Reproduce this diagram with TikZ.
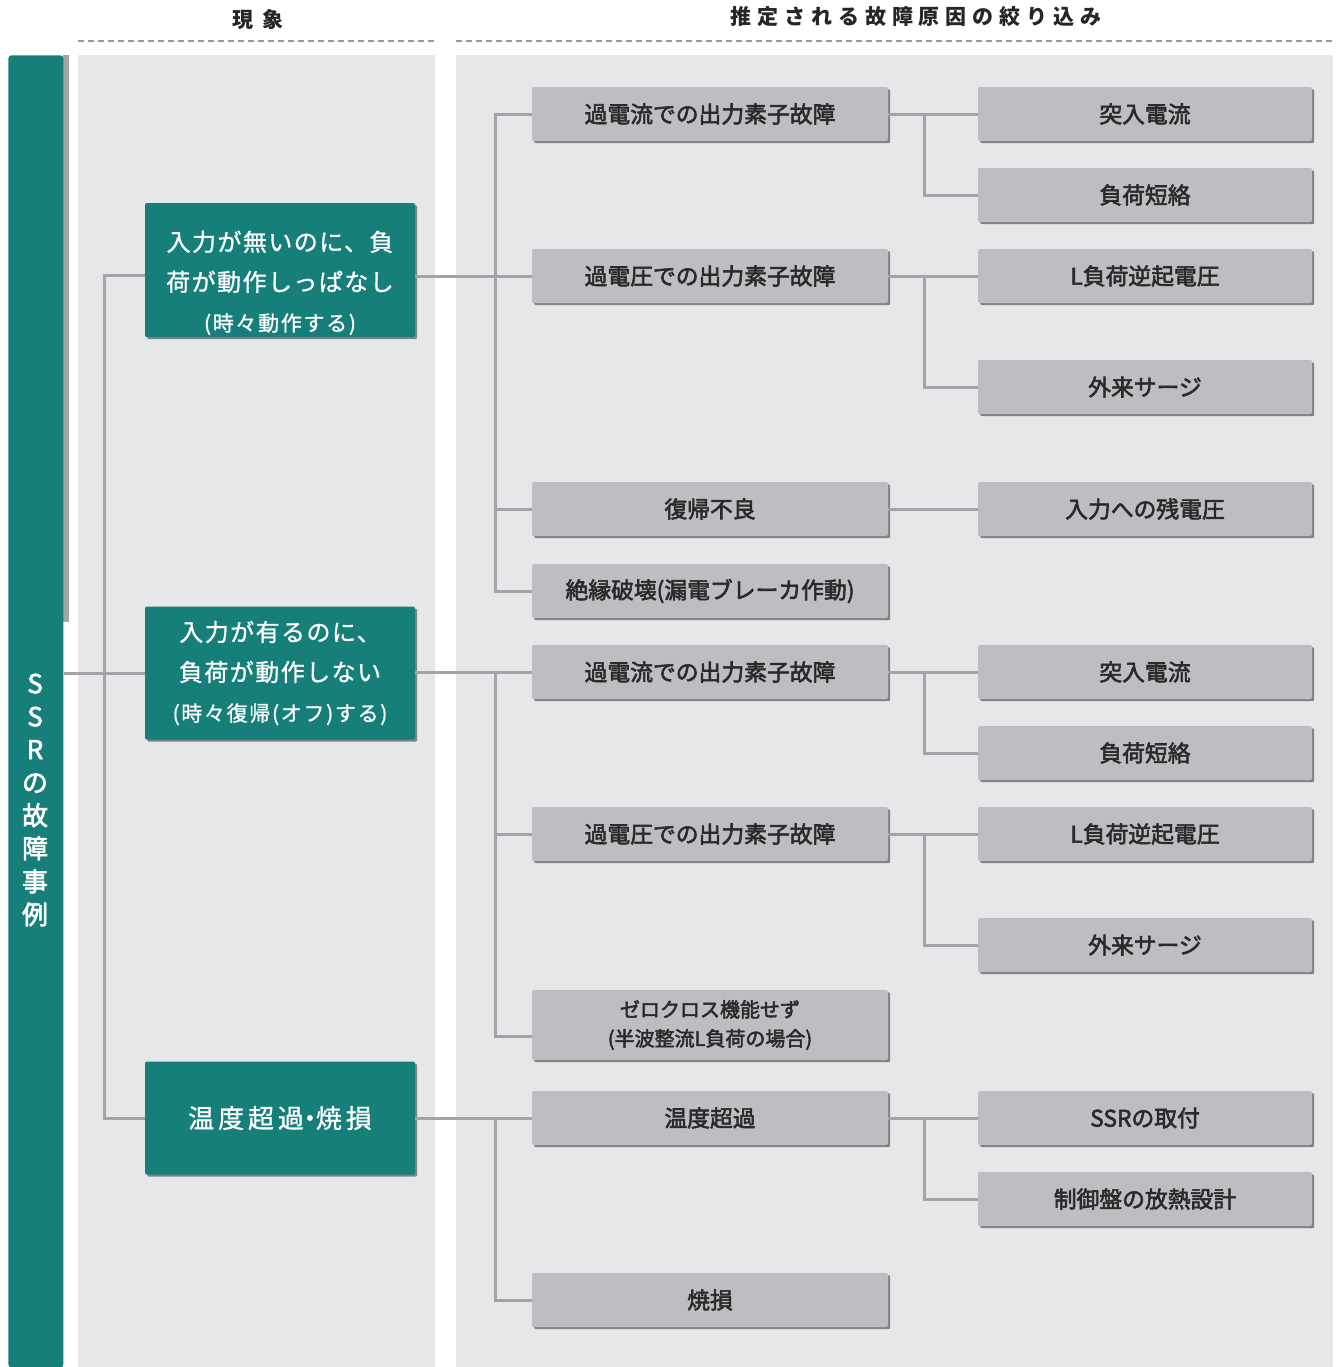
\documentclass[tikz,border=0pt]{standalone}
\usepackage{fontspec}
\setmainfont{Noto Sans CJK JP}
\newfontfamily\medjp{Noto Sans CJK JP}[FakeBold=2.5]
\newfontfamily\lightjp{Noto Sans CJK JP}[FakeBold=1]
\usetikzlibrary{positioning,shadows}
\definecolor{ssrteal}{HTML}{167F7A}
\definecolor{panelgray}{HTML}{E6E7E9}
\definecolor{causegray}{HTML}{BDBEC1}
\definecolor{linkgray}{HTML}{A3A4A7}
\definecolor{inkgray}{HTML}{2A2A2A}
\tikzset{
  cause/.style={fill=causegray, rounded corners=1pt, minimum width=178pt,
    minimum height=27pt, inner sep=0pt, align=center, text=inkgray,
    font=\medjp\fontsize{11.4}{14}\selectfont,
    drop shadow={shadow xshift=1.1pt, shadow yshift=-1.1pt, fill=black!75, opacity=0.6}},
  reason/.style={cause, minimum width=167pt},
  phen/.style={fill=ssrteal, rounded corners=1pt, minimum width=135pt,
    inner sep=0pt, align=center, text=white,
    font=\lightjp\fontsize{12}{20}\selectfont\addfontfeatures{LetterSpace=6},
    drop shadow={shadow xshift=1.1pt, shadow yshift=-1.1pt, fill=black!75, opacity=0.6}},
  link/.style={draw=linkgray, line width=1.5pt},
  rule/.style={draw=black!40, line width=1pt, dash pattern=on 3pt off 2pt},
  hdr/.style={font=\bfseries\fontsize{10.5}{12}\selectfont, text=black!85},
}
\newcommand{\paren}[1]{{\fontsize{10.5}{19}\selectfont\addfontfeatures{LetterSpace=8}#1}}

\begin{document}
\begin{tikzpicture}[x=0.5pt,y=-0.5pt]
\useasboundingbox (0,0) rectangle (1336,1367);
\fill[white] (0,0) rectangle (1336,1367);
% headings
\node[hdr, font=\bfseries\fontsize{10.5}{12}\selectfont\addfontfeatures{LetterSpace=40}] (hphen) at (258,20) {現象};
\node[hdr, font=\bfseries\fontsize{10.5}{12}\selectfont\addfontfeatures{LetterSpace=28}] (hcause) at (916,17) {推定される故障原因の絞り込み};
\draw[rule] (78,41) -- (435,41);
\draw[rule] (456,41) -- (1333,41);
% panels
\fill[panelgray] (78,55) rectangle (435,1367);
\fill[panelgray] (456,55) rectangle (1333,1367);
% SSR bar
\fill[linkgray] (63,55) rectangle (69,622);
\node[fill=ssrteal, rounded corners=1.5pt, minimum width=27.5pt, minimum height=656pt, inner sep=0pt,
  anchor=north west] (ssr) at (8,55) {};
\node[text=white, align=center, font=\medjp\fontsize{13}{16.5}\selectfont] (ssrlabel) at (35,800)
  {S\\S\\R\\の\\故\\障\\事\\例};
% phenomena
\node[phen, minimum height=67pt] (phA) at (280,270) {\rule{0pt}{23pt}入力が無いのに、負\\荷が動作しっぱなし\\\paren{(時々動作する)}};
\node[phen, minimum height=66.5pt] (phB) at (280,673) {入力が有るのに、\\負荷が動作しない\\\paren{(時々復帰(オフ)する)}};
\node[phen, minimum height=56.5pt, font=\lightjp\fontsize{13}{20}\selectfont\addfontfeatures{LetterSpace=15}] (phC) at (280,1118) {温度超過\kern-3.5pt・\kern-3.5pt焼損};
% estimated causes
\node[cause] (m1) at (710,114) {過電流での出力素子故障};
\node[cause] (m2) at (710,276) {過電圧での出力素子故障};
\node[cause] (m3) at (710,509) {復帰不良};
\node[cause] (m4) at (710,591) {絶縁破壊(漏電ブレーカ作動)};
\node[cause] (m5) at (710,672) {過電流での出力素子故障};
\node[cause] (m6) at (710,834) {過電圧での出力素子故障};
\node[cause, minimum height=35pt, font=\medjp\fontsize{10}{14.5}\selectfont] (m7) at (710,1025) {ゼロクロス機能せず\\(半波整流L負荷の場合)};
\node[cause] (m8) at (710,1118) {温度超過};
\node[cause] (m9) at (710,1300) {焼損};
% narrowed causes
\node[reason] (r1) at (1145,114) {突入電流};
\node[reason] (r2) at (1145,195) {負荷短絡};
\node[reason] (r3) at (1145,276) {L負荷逆起電圧};
\node[reason] (r4) at (1145,387) {外来サージ};
\node[reason] (r5) at (1145,509) {入力への残電圧};
\node[reason] (r6) at (1145,672) {突入電流};
\node[reason] (r7) at (1145,753) {負荷短絡};
\node[reason] (r8) at (1145,834) {L負荷逆起電圧};
\node[reason] (r9) at (1145,945) {外来サージ};
\node[reason] (r10) at (1145,1118) {SSRの取付};
\node[reason] (r11) at (1145,1199) {制御盤の放熱設計};
% links: bar to phenomena
\coordinate (j0) at ([xshift=-20pt]phB.west);
\draw[link] (ssr.east |- phB.west) -- (phB.west);
\draw[link] (j0) |- ([yshift=-2.5pt]phA.west);
\draw[link] (j0) |- (phC.west);
% links: phenomena to causes
\coordinate (jA) at ([xshift=-18pt]m2.west);
\coordinate (jB) at ([xshift=-18pt]m5.west);
\coordinate (jC) at ([xshift=-18pt]m8.west);
\draw[link] (phA.east |- m2.west) -- (m2.west);
\foreach \m in {m1,m3,m4} \draw[link] (jA) |- (\m.west);
\draw[link] (phB.east |- m5.west) -- (m5.west);
\draw[link] (jB) |- (m6.west);
\draw[link] (jB) |- ([yshift=-5.5pt]m7.west);
\draw[link] (phC.east |- m8.west) -- (m8.west);
\draw[link] (jC) |- (m9.west);
% links: causes to narrowed causes
\foreach \m/\r/\s in {m1/r1/r2, m2/r3/r4, m5/r6/r7, m6/r8/r9, m8/r10/r11} {
  \draw[link] (\m.east) -- (\r.west);
  \coordinate (k\m) at ([xshift=-26.5pt]\r.west);
  \draw[link] (k\m) |- (\s.west);
}
\draw[link] (m3.east) -- (r5.west);
\end{tikzpicture}
\end{document}
